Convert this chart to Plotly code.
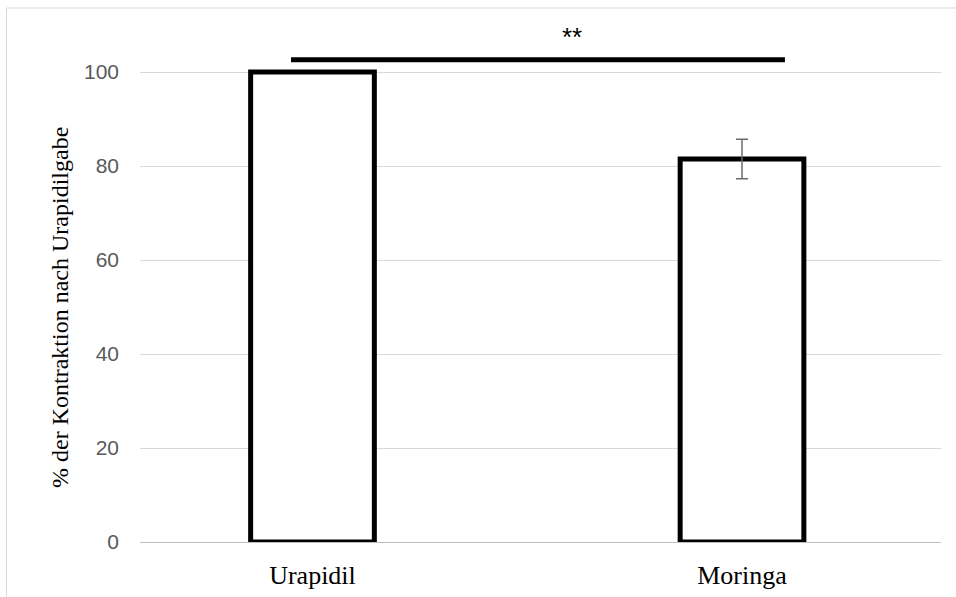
import plotly.graph_objects as go

categories = ["Urapidil", "Moringa"]
values = [100, 81.5]
errors = [None, 4.2]
y_ticks = [0, 20, 40, 60, 80, 100]
y_title = "% der Kontraktion nach Urapidilgabe"

# significance bracket between the two groups
sig_x = [-0.05, 1.1]
sig_y = [102.6, 102.6]
sig_label = "**"

xpos = list(range(len(categories)))

fig = go.Figure()
for i, (v, e) in enumerate(zip(values, errors)):
    fig.add_trace(go.Bar(
        x=[xpos[i]], y=[v], width=0.288,
        marker=dict(color="white", line=dict(color="black", width=5)),
        error_y=dict(type="data", array=[e if e is not None else 0],
                     visible=e is not None,
                     color="#6b6b6b", thickness=1.5, width=6),
        showlegend=False,
    ))
fig.add_trace(go.Scatter(
    x=sig_x, y=sig_y, mode="lines",
    line=dict(color="black", width=5), showlegend=False, cliponaxis=False,
))
fig.add_annotation(x=0.604, y=107.4, text=sig_label, showarrow=False,
                   font=dict(family="Liberation Sans", size=26, color="black"))
fig.add_annotation(xref="paper", yref="paper", x=-0.1, y=0.4545,
                   xanchor="center", yanchor="middle",
                   text=y_title, textangle=-90, showarrow=False,
                   font=dict(family="Liberation Serif", size=24, color="black"))

fig.update_layout(
    width=956, height=597,
    margin=dict(l=140, r=15, t=25, b=55),
    plot_bgcolor="white", paper_bgcolor="white",
    barmode="overlay",
    xaxis=dict(range=[-0.4016, 1.4633], tickvals=xpos, ticktext=categories,
               showgrid=False, zeroline=False, showline=False, ticks="",
               ticklabelstandoff=15, automargin=False,
               tickfont=dict(family="Liberation Serif", size=26, color="black")),
    yaxis=dict(range=[0, 110], tickvals=y_ticks, showgrid=True, automargin=False,
               gridcolor="#d9d9d9", gridwidth=1, zeroline=True,
               zerolinecolor="#bfbfbf", zerolinewidth=1, showline=False,
               ticks="", ticklabelstandoff=20,
               tickfont=dict(family="Liberation Sans", size=21, color="#595959")),
    shapes=[
        dict(type="line", xref="paper", yref="paper", x0=-0.1667, x1=-0.1667,
             y0=1.0329, y1=-0.2, line=dict(color="#d9d9d9", width=1)),
        dict(type="line", xref="paper", yref="paper", x0=-0.1667, x1=1.02,
             y0=1.0329, y1=1.0329, line=dict(color="#d9d9d9", width=1)),
    ],
)

fig.write_html("out.html")
